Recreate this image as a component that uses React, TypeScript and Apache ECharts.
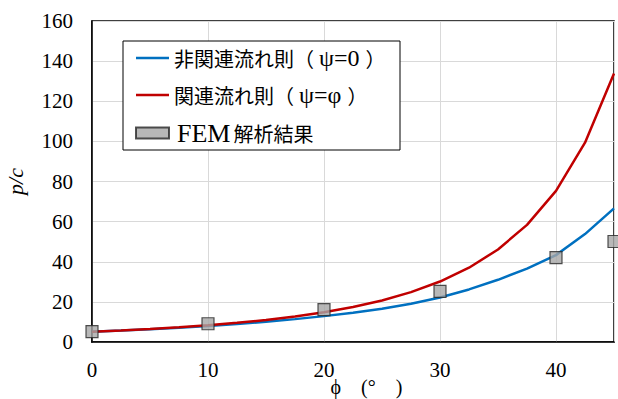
import React, { useEffect, useRef } from "react";
import * as echarts from "echarts";

const phiCurve = [0, 2.5, 5, 7.5, 10, 12.5, 15, 17.5, 20, 22.5, 25, 27.5, 30, 32.5, 35, 37.5, 40, 42.5, 45];
const nonAssociated = [5.14, 5.7, 6.35, 7.1, 7.95, 8.95, 10.1, 11.4, 12.9, 14.6, 16.6, 19.1, 22.2, 26.2, 31.0, 36.6, 43.3, 53.8, 66.6];
const associated = [5.14, 5.76, 6.49, 7.32, 8.35, 9.55, 10.98, 12.7, 14.83, 17.45, 20.72, 24.85, 30.14, 37.02, 46.12, 58.4, 75.31, 99.34, 133.87];
const phiFem = [0, 10, 20, 30, 40, 45];
const femValues = [5.2, 9.1, 16.1, 25.2, 42.1, 50.1];

const seriesNames = ["非関連流れ則（ψ=0）", "関連流れ則（ψ=φ）", "FEM解析結果"];
const xAxisName = "ϕ\u3000(°\u3000)";
const yAxisName = "p/c";

const FONT = '"Liberation Serif", "Noto Sans CJK JP", serif';
const LATIN = '"Liberation Serif", serif';
const CJK = '"Noto Sans CJK JP", sans-serif';
const LINE_ICON = "path://M0,0 L33,0 L33,2.5 L0,2.5 Z";

function legendLabel(name: string): string {
  if (name.startsWith("FEM")) return "{m|FEM}" + name.slice(3);
  return name.replace(/（(.+)）/, "（{l|$1}）");
}

export default function App() {
  const ref = useRef<HTMLDivElement>(null);
  useEffect(() => {
    if (!ref.current) return;
    document.body.style.margin = "0";
    const chart = echarts.init(ref.current, undefined, { renderer: "svg" });
    chart.setOption({
      animation: false,
      backgroundColor: "#ffffff",
      grid: {
        left: 92,
        right: 4,
        top: 21,
        bottom: 57,
        outerBoundsMode: "none",
        containLabel: false,
        show: true,
        borderColor: "#000000",
        borderWidth: 1.5,
        backgroundColor: "transparent",
      },
      legend: {
        orient: "vertical",
        left: 123,
        top: 41,
        padding: [5, 11, 4, 12],
        itemWidth: 33,
        itemHeight: 11,
        itemGap: 13,
        backgroundColor: "#ffffff",
        borderColor: "#000000",
        borderWidth: 1,
        formatter: legendLabel,
        textStyle: {
          fontFamily: CJK,
          fontSize: 20,
          color: "#000000",
          lineHeight: 24,
          width: 215,
          rich: {
            l: { fontFamily: LATIN, fontSize: 24, color: "#000000", lineHeight: 24, padding: [0, 6, 0, 5] },
            m: { fontFamily: LATIN, fontSize: 26, color: "#000000", lineHeight: 24, padding: [0, 3, 0, 3] },
          },
        },
        data: [
          { name: seriesNames[0], icon: LINE_ICON, itemStyle: { color: "#0070C0", borderWidth: 0 } },
          { name: seriesNames[1], icon: LINE_ICON, itemStyle: { color: "#C00000", borderWidth: 0 } },
          { name: seriesNames[2], icon: "rect" },
        ],
      },
      xAxis: {
        type: "value",
        min: 0,
        max: 45,
        interval: 10,
        name: xAxisName,
        nameLocation: "middle",
        nameGap: 35,
        nameMoveOverlap: false,
        nameTextStyle: { fontFamily: FONT, fontSize: 20, lineHeight: 20, color: "#000000", padding: [0, 0, 0, 27] },
        axisLine: { show: true, lineStyle: { color: "#000000", width: 1.5 } },
        axisTick: { show: false },
        axisLabel: { fontFamily: FONT, fontSize: 21, color: "#000000", margin: 17, showMaxLabel: false },
        splitLine: { show: true, lineStyle: { color: "#d9d9d9", width: 1 } },
      },
      yAxis: {
        type: "value",
        min: 0,
        max: 160,
        interval: 20,
        name: yAxisName,
        nameLocation: "middle",
        nameGap: 66,
        nameMoveOverlap: false,
        nameRotate: 90,
        nameTextStyle: { fontFamily: FONT, fontSize: 22, fontStyle: "italic", color: "#000000" },
        axisLine: { show: true, lineStyle: { color: "#000000", width: 1.5 } },
        axisTick: { show: false },
        axisLabel: { fontFamily: FONT, fontSize: 21, color: "#000000", margin: 19 },
        splitLine: { show: true, lineStyle: { color: "#d9d9d9", width: 1 } },
      },
      series: [
        {
          name: seriesNames[0],
          type: "line",
          data: phiCurve.map((p, i) => [p, nonAssociated[i]]),
          symbol: "none",
          color: "#0070C0",
          lineStyle: { color: "#0070C0", width: 2.5 },
          z: 2,
        },
        {
          name: seriesNames[1],
          type: "line",
          data: phiCurve.map((p, i) => [p, associated[i]]),
          symbol: "none",
          color: "#C00000",
          lineStyle: { color: "#C00000", width: 2.5 },
          z: 3,
        },
        {
          name: seriesNames[2],
          type: "scatter",
          data: phiFem.map((p, i) => [p, femValues[i]]),
          symbol: "rect",
          symbolSize: 12,
          clip: false,
          itemStyle: { color: "#a6a6a6", borderColor: "#262626", borderWidth: 1.2 },
          z: 4,
        },
      ],
    });
    return () => chart.dispose();
  }, []);
  return (
    <div
      ref={ref}
      style={{ position: "absolute", left: 0, top: 0, width: 618, height: 399 }}
    />
  );
}
